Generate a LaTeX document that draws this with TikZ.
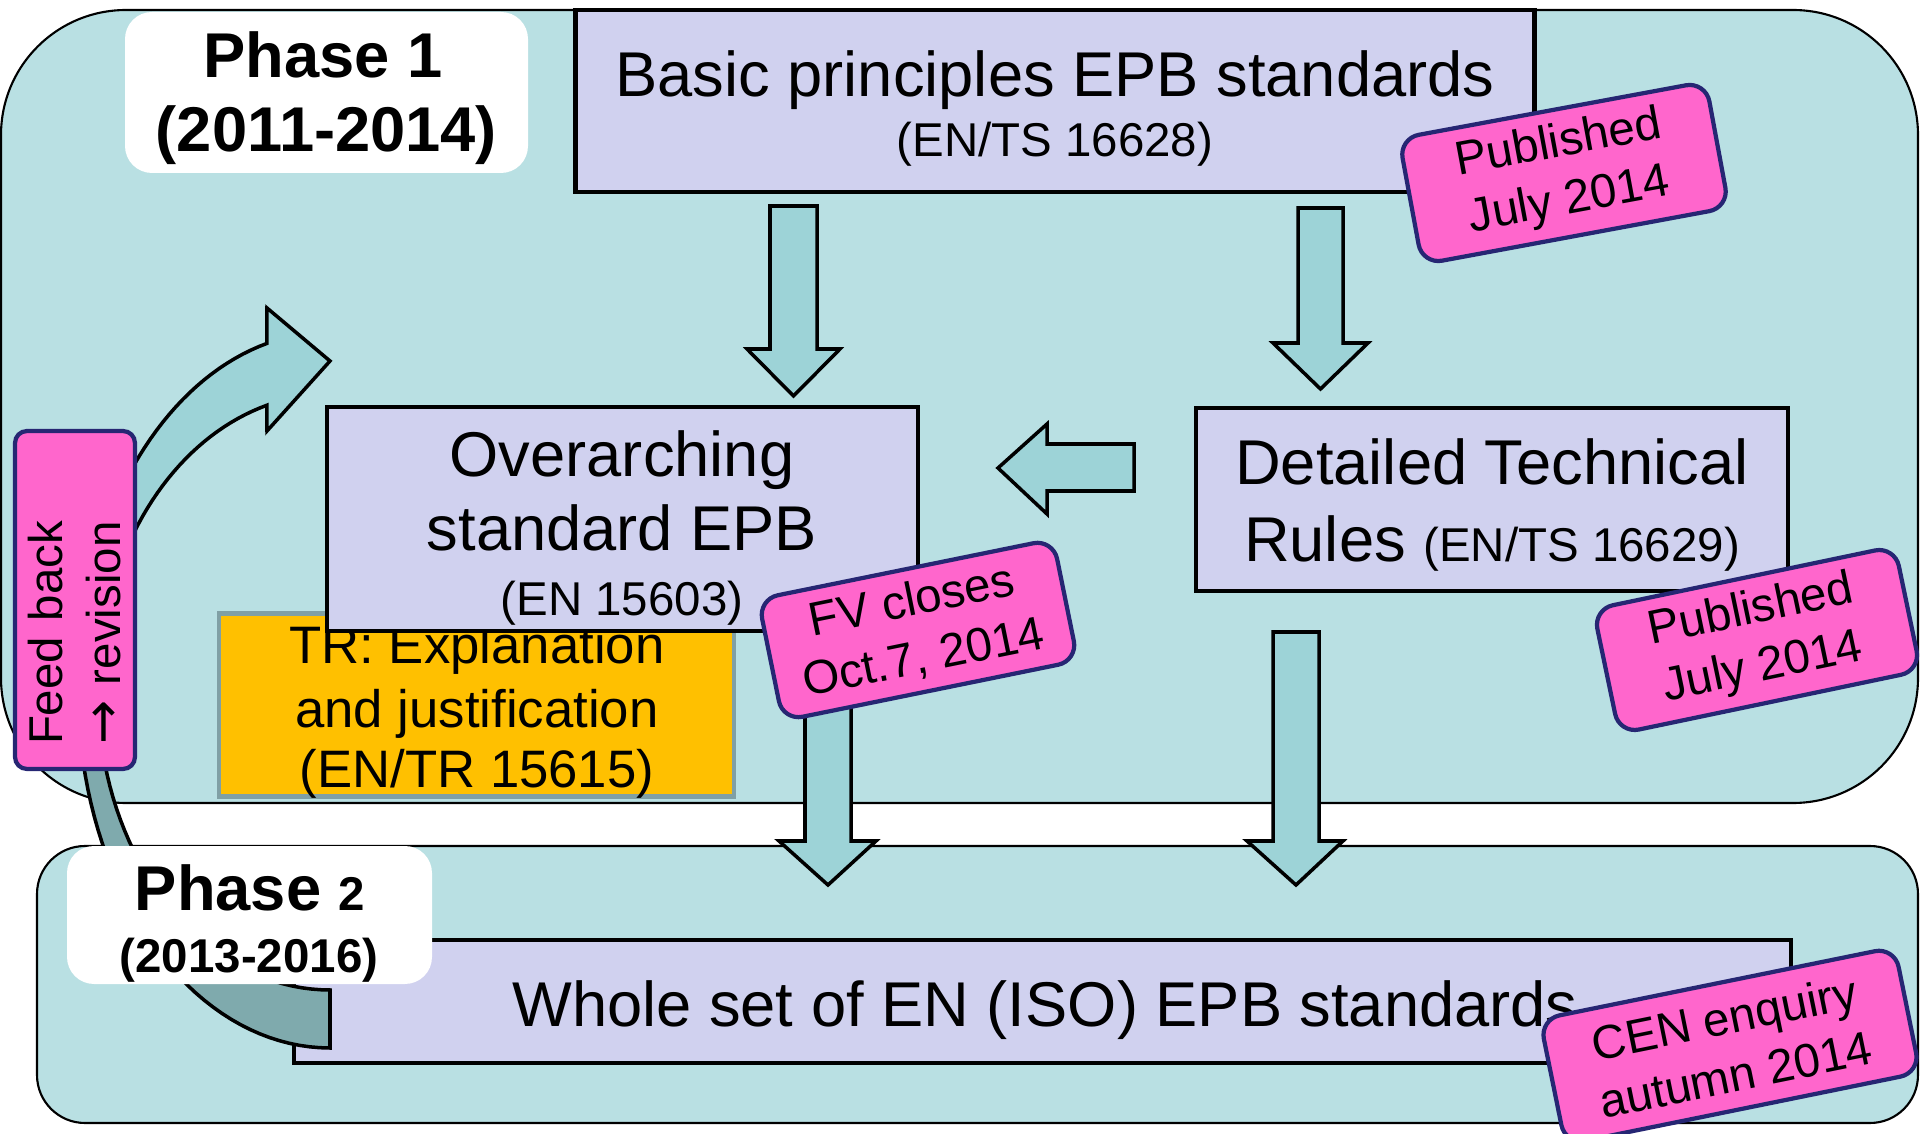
\documentclass[tikz,border=0pt]{standalone}
\usepackage{fontspec}
\setmainfont{Liberation Sans}
\newfontfamily\symfnt{DejaVu Sans}
\newcommand\fbig{\fontsize{18}{21.5}\selectfont}
\newcommand\fsml{\fontsize{13.5}{16.5}\selectfont}
\newcommand\ftrx{\fontsize{15}{18}\selectfont}
\definecolor{bgteal}{HTML}{B9E0E3}
\definecolor{arrteal}{HTML}{9DD3D7}
\definecolor{arrdark}{HTML}{7FAAAD}
\definecolor{lav}{HTML}{D0D1EF}
\definecolor{tagpink}{HTML}{FF66CC}
\definecolor{tagnavy}{HTML}{262673}
\definecolor{trorange}{HTML}{FFC000}
\definecolor{trborder}{HTML}{80A0A5}
\begin{document}
\begin{tikzpicture}[x=0.1mm,y=-0.1mm,
  phasebg/.style={draw=black, line width=0.6pt, fill=bgteal, inner sep=0pt},
  stdbox/.style={draw=black, line width=1.2pt, fill=lav, inner sep=0pt},
  trbox/.style={draw=trborder, line width=1.2pt, fill=trorange, inner sep=0pt},
  txt/.style={anchor=base, inner sep=0pt, font=\fbig},
  stxt/.style={anchor=base, inner sep=0pt, font=\fsml},
  trtxt/.style={anchor=base, inner sep=0pt, font=\ftrx},
  phaselbl/.style={fill=white, rounded corners=2.7mm, inner sep=0pt},
  tagbox/.style={draw=tagnavy, line width=1.2pt, fill=tagpink, rounded corners=2mm, inner sep=0pt, align=center, font=\fsml},
  blockarrow/.style={draw=black, line width=1pt, fill=arrteal, line join=miter},
  curvelight/.style={draw=black, line width=1pt, fill=arrteal, line join=miter},
  curvedark/.style={draw=black, line width=1pt, fill=arrdark, line join=miter}
]
\useasboundingbox (0,0) rectangle (1920,1134);
\clip (0,0) rectangle (1920,1134);

% phase backgrounds
\node[phasebg, rounded corners=12.5mm, minimum width=191.7mm, minimum height=79.3mm] (phase1bg) at (959.5,406.5) {};
\node[phasebg, rounded corners=4.8mm, minimum width=188.1mm, minimum height=27.7mm] (phase2bg) at (977.5,984.5) {};

% standard boxes
\node[stdbox, minimum width=95.9mm, minimum height=18.2mm] (basic) at (1055,101) {};
\node[txt] (basicT1) at (1055,97) {Basic principles EPB standards};
\node[stxt] (basicT2) at (1055,157) {(EN/TS 16628)};

\node[trbox, minimum width=51.5mm, minimum height=18.3mm] (tr) at (476.5,705) {};
\node[trtxt] (trT1) at (477,664) {TR: Explanation};
\node[trtxt] (trT2) at (477,727) {and justification};
\node[trtxt] (trT3) at (477,788) {(EN/TR 15615)};

\node[stdbox, minimum width=59.1mm, minimum height=22.4mm] (over) at (622.5,519) {};
\node[txt] (overT1) at (622,477) {Overarching};
\node[txt] (overT2) at (622,551) {standard EPB};
\node[stxt] (overT3) at (622,616) {(EN 15603)};

\node[stdbox, minimum width=59.2mm, minimum height=18.3mm] (detail) at (1492,499.5) {};
\node[txt] (detailT1) at (1492,485) {Detailed Technical};
\node[txt] (detailT2) at (1492,562) {Rules {\fsml (EN/TS 16629)}};

\node[stdbox, minimum width=149.7mm, minimum height=12.3mm] (whole) at (1042.5,1001.5) {};
\node[txt] (wholeT) at (1045,1026) {Whole set of EN (ISO) EPB standards};

% block arrows
\draw[blockarrow] (770,206) -- (817,206) -- (817,349) -- (840,349) -- (793.5,396) -- (747,349) -- (770,349) -- cycle;
\draw[blockarrow] (1298,208) -- (1343,208) -- (1343,343) -- (1368,343) -- (1320.5,389) -- (1273,343) -- (1298,343) -- cycle;
\draw[blockarrow] (1134,444) -- (1134,491) -- (1047,491) -- (1047,514) -- (998,468) -- (1047,424) -- (1047,444) -- cycle;
\draw[blockarrow] (805,680) -- (851,680) -- (851,841) -- (876,841) -- (828,885) -- (779,841) -- (805,841) -- cycle;
\draw[blockarrow] (1273,632) -- (1319,632) -- (1319,841) -- (1343,841) -- (1296,885) -- (1247,841) -- (1273,841) -- cycle;

% curved feedback arrow
\draw[curvedark] plot[domain=90:180, samples=40] ({330+252*cos(\x)},{690+358*sin(\x)})
  -- plot[domain=180:90, samples=40] ({330+232*cos(\x)},{692+298*sin(\x)}) -- cycle;
\draw[curvelight] plot[domain=180:255.5, samples=40] ({330+252*cos(\x)},{690+358*sin(\x)})
  -- (267,308) -- (330,361) -- (267,431)
  -- plot[domain=254.2:180, samples=40] ({330+232*cos(\x)},{692+298*sin(\x)}) -- cycle;

% phase labels
\node[phaselbl, minimum width=40.3mm, minimum height=16.1mm] (lbl1) at (326.5,92.5) {};
\node[txt, font=\fbig\bfseries] (lbl1T1) at (323,78) {Phase 1};
\node[txt, font=\fbig\bfseries] (lbl1T2) at (326.5,152) {(2011-2014)};
\node[phaselbl, minimum width=36.5mm, minimum height=13.8mm] (lbl2) at (249.5,915) {};
\node[txt, font=\fbig\bfseries] (lbl2T1) at (250,910) {Phase {\fsml\bfseries 2}};
\node[stxt, font=\fsml\bfseries] (lbl2T2) at (249,972) {(2013-2016)};

% tags
\node[tagbox, minimum width=31.2mm, minimum height=12.8mm, rotate=10.5] (pub1) at (1564,173) {Published\\July 2014};
\node[tagbox, minimum width=30.8mm, minimum height=12.7mm, rotate=11.8] (pub2) at (1757,640) {Published\\July 2014};
\node[tagbox, minimum width=30.1mm, minimum height=12.4mm, rotate=11.5] (fv) at (918,630) {FV closes\\Oct.7, 2014};
\node[tagbox, minimum width=36.2mm, minimum height=12.8mm, rotate=11.5] (cen) at (1730,1046) {CEN enquiry\\autumn 2014};
\node[tagbox, rounded corners=1.2mm, minimum width=33.8mm, minimum height=12mm, rotate=90, align=left, text width=29mm] (feed) at (75,600) {Feed back\\{\symfnt\fontsize{15}{16.5}\selectfont →} revision};
\end{tikzpicture}
\end{document}
